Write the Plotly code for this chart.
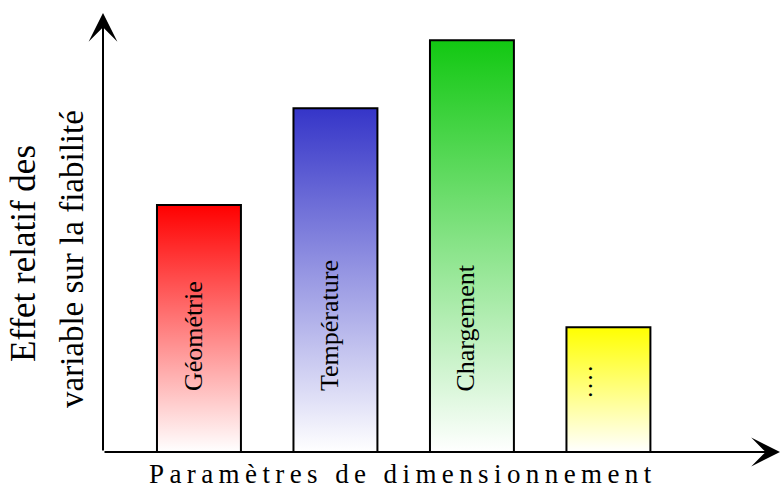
import plotly.graph_objects as go

categories = ["Géométrie", "Température", "Chargement", "...."]
values = [60.0, 83.5, 100.0, 30.3]
top_colors = ["#ff0000", "#3535c8", "#12c812", "#ffff00"]
y_title_lines = ["Effet relatif des", "variable sur la fiabilité"]
x_title = "Paramètres de dimensionnement"

BAR_W = 0.615
X_MIN, X_MAX = -0.703, 4.257
Y_MAX = 106.6
SERIF = "Liberation Serif"

fig = go.Figure()

for i, (cat, v, col) in enumerate(zip(categories, values, top_colors)):
    xs = [i - BAR_W / 2, i + BAR_W / 2, i + BAR_W / 2, i - BAR_W / 2, i - BAR_W / 2]
    ys = [0, 0, v, v, 0]
    fig.add_trace(go.Scatter(
        x=xs, y=ys, mode="lines", fill="toself",
        fillgradient=dict(type="vertical", colorscale=[[0, "#ffffff"], [1, col]]),
        line=dict(color="black", width=2),
        hoverinfo="skip", showlegend=False,
    ))

# labels inside bars
for i, cat in enumerate(categories):
    is_dots = cat == "...."
    fig.add_annotation(
        x=i, y=14.3 if not is_dots else 12.6, xref="x", yref="y",
        text=cat if not is_dots else "\u200a".join(list(cat)),
        textangle=-90, showarrow=False,
        xanchor="center", yanchor="bottom",
        xshift=-6 if not is_dots else -25,
        font=dict(family=SERIF, size=26, color="black"),
    )

# axes with arrows
fig.add_annotation(x=X_MIN, y=Y_MAX, ax=X_MIN, ay=0, xref="x", yref="y",
                   axref="x", ayref="y", text="", showarrow=True,
                   arrowhead=3, arrowsize=2.4, arrowwidth=2, arrowcolor="black")
fig.add_annotation(x=X_MAX, y=0, ax=X_MIN, ay=0, xref="x", yref="y",
                   axref="x", ayref="y", text="", showarrow=True,
                   arrowhead=3, arrowsize=2.4, arrowwidth=2, arrowcolor="black")

# y title (two lines)
fig.add_annotation(x=23, y=254, xref="paper", yref="paper", text=y_title_lines[0],
                   textangle=-90, showarrow=False, xanchor="center", yanchor="middle",
                   font=dict(family=SERIF, size=35, color="black"))
fig.add_annotation(x=72, y=259, xref="paper", yref="paper", text=y_title_lines[1],
                   textangle=-90, showarrow=False, xanchor="center", yanchor="middle",
                   font=dict(family=SERIF, size=33, color="black"))

# x title with letter spacing
spaced = "\u2009".join(list(x_title))
fig.add_annotation(x=400, y=474, xref="paper", yref="paper", text=spaced,
                   showarrow=False, xanchor="center", yanchor="middle",
                   font=dict(family=SERIF, size=27, color="black"))

# convert pixel-based paper positions for titles
W, H = 782, 493
ML, MR, MT, MB = 103, 2, 13, 41
pw, ph = W - ML - MR, H - MT - MB
for ann in fig.layout.annotations:
    if ann.xref == "paper":
        ann.x = (ann.x - ML) / pw
        ann.y = (H - MB - ann.y) / ph

fig.update_layout(
    width=W, height=H,
    margin=dict(l=ML, r=MR, t=MT, b=MB),
    paper_bgcolor="white", plot_bgcolor="white",
    xaxis=dict(range=[X_MIN, X_MAX], visible=False, fixedrange=True),
    yaxis=dict(range=[0, Y_MAX], visible=False, fixedrange=True),
    showlegend=False,
)

fig.write_html("out.html", config={"displayModeBar": False},
               post_script="document.body.style.margin='0';document.body.style.overflow='hidden';")
